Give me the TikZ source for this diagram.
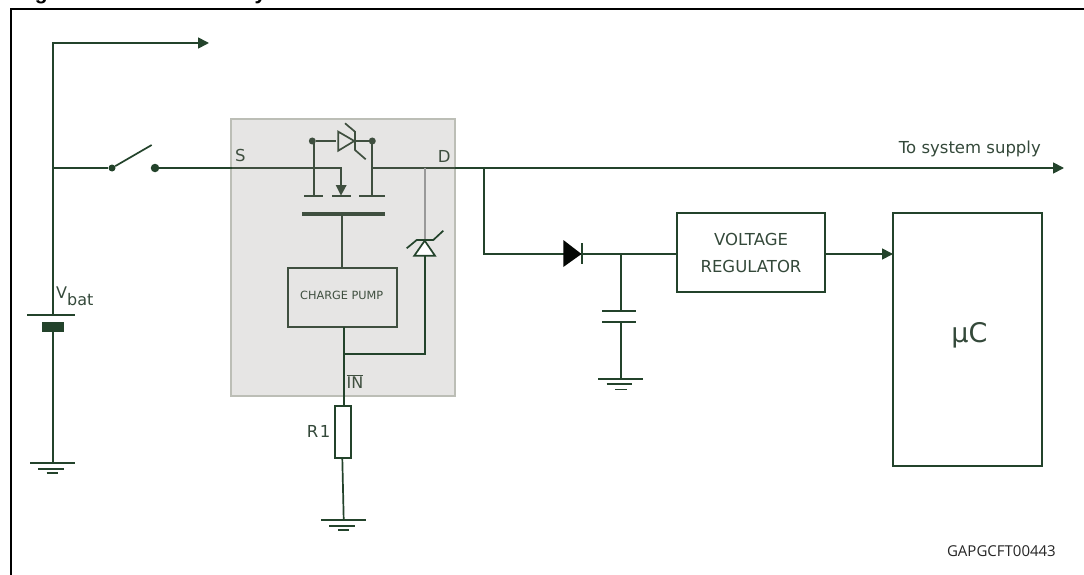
\documentclass[tikz,border=0pt]{standalone}
\usepackage{fontspec}
\setmainfont{DejaVu Sans}
\newfontfamily\arialb{Liberation Sans}
\newfontfamily\codefont{Open Sans}
\usetikzlibrary{arrows.meta}
\definecolor{wire}{HTML}{23432B}
\definecolor{inner}{HTML}{3F4F3F}
\definecolor{txt}{HTML}{34493A}
\definecolor{panel}{HTML}{E6E5E4}
\definecolor{panelb}{HTML}{BCBEB6}
\tikzset{x=1pt,y=-1pt,
 wirel/.style={draw=wire,line width=1.7pt},
 innerl/.style={draw=inner,line width=1.7pt},
 lab/.style={text=txt,inner sep=0pt,font=\fontsize{16.5}{20}\selectfont},
 dotn/.style={circle,fill=wire,inner sep=0pt,minimum size=7pt},
 pt/.style={inner sep=0pt,outer sep=0pt,minimum size=0pt},
 tip/.style={-{Triangle[length=11pt,width=11pt]}}
}
\begin{document}
\begin{tikzpicture}
\useasboundingbox (0,0) rectangle (1084,575);
\fill[white] (0,0) rectangle (1084,575);
% title cut off by the top edge
\begin{scope}
\clip (0,0) rectangle (1084,6);
\node[anchor=base west,inner sep=0pt,font=\arialb\bfseries\fontsize{21}{24}\selectfont,text=black] (title) at (16,-0.5) {Figure 3.\hspace{18pt}MCU-based system};
\end{scope}
% frame
\draw[black,line width=2pt] (10.5,575) -- (10.5,9) -- (1084,9);
% panel
\node[pt,draw=panelb,fill=panel,line width=2pt,minimum width=224pt,minimum height=277pt,anchor=north west] (ic) at (231,119) {};
% nodes
\node[dotn] (swa) at (112,168) {};
\node[dotn,minimum size=8.5pt] (swb) at (155,168) {};
\coordinate (top) at (53,43);
\coordinate (arrowend) at (209,43);
\coordinate (j1) at (53,168);
\coordinate (bat1) at (53,315);
\coordinate (bat2) at (53,326);
\coordinate (g1) at (53,463);
\coordinate (swt) at (151.7,145);
\coordinate (sysend) at (1064,168);
\coordinate (sleft) at (341,168);
\coordinate (sdown) at (341,186);
\coordinate (dright) at (372,168);
\draw[wirel,tip] (j1) -- (top) -- (arrowend);
\draw[wirel] (j1) -- (bat1);
\draw[wirel] (j1) -- (swa);
\draw[wirel] (swa) -- (swt);
\draw[wirel] (bat2) -- (g1);
\draw[wirel] (27.3,315) -- (75,315);
\fill[wire] (41.7,322) rectangle (64,332);
\draw[wirel] (30,463) -- (75,463);
\draw[wirel] (38.3,469) -- (64,469);
\draw[wirel] (46.7,473) -- (58.3,473);
\node[lab,font=\fontsize{16}{20}\selectfont,anchor=base west] (vbat) at (56,298) {V\raisebox{-7pt}{bat}};
% main line
\draw[wirel] (swb) -- (232,168);
\draw[innerl] (232,168) -- (sleft) -- (sdown);
\draw[innerl] (dright) -- (455,168);
\draw[wirel,tip] (455,168) -- (sysend);
\node[lab,anchor=base east] (sys) at (1041,153.3) {To system supply};
% mosfet
\node[lab,anchor=base west,text=inner] (S) at (235,161.7) {S};
\node[lab,anchor=base east,text=inner] (D) at (450.7,162.7) {D};
\node[dotn,fill=inner] (ga) at (312.3,141) {};
\node[dotn,fill=inner] (gb) at (372.3,141) {};
\draw[innerl] (ga) -- (335.7,141);
\draw[innerl] (338.3,131.7) -- (338.3,150.7) -- (354.3,141) -- cycle;
\draw[innerl] (354.3,141) -- (gb);
\draw[innerl] (345,123.3) -- (355,131.7) -- (355,150) -- (365.7,159.3);
\draw[innerl] (314,141) -- (314,196);
\draw[innerl] (372,141) -- (372,196);
\draw[innerl] (304,196) -- (323.3,196);
\draw[innerl] (332.3,196) -- (351,196);
\draw[innerl] (359,196) -- (385,196);
\fill[inner] (335.7,185) -- (346.7,185) -- (341,195.5) -- cycle;
\fill[inner] (302,212) rectangle (384.7,216);
\node[pt,draw=inner,line width=1.7pt,minimum width=109pt,minimum height=59pt,anchor=north west] (cp) at (288,268) {};
\node[lab,text=inner,font=\fontsize{11.3}{14}\selectfont] (cpl) at (341.7,295) {CHARGE PUMP};
\coordinate (gt) at (342,216);
\draw[innerl] (gt) -- (gt |- cp.north);
% gray wire and zener
\draw[draw=gray!75!panel,line width=1.4pt] (425,168) -- (425,240.7);
\draw[wirel,fill=white] (414.3,255.7) -- (424.7,240.7) -- (435,255.7) -- cycle;
\draw[wirel] (406.7,248.3) -- (416.7,240) -- (433.3,240) -- (443.3,230.7);
\draw[wirel] (425,256) -- (425,354) -- (343,354);
% IN
\node[pt,draw=wire,fill=white,line width=1.7pt,minimum width=16pt,minimum height=52pt,anchor=north west] (r1) at (335,406) {};
\coordinate (int) at (344,327);
\draw[wirel] (int) -- (int |- r1.north);
\node[lab,text=inner,font=\fontsize{16}{19}\selectfont,anchor=base west] (in) at (346.5,388.3) {$\overline{\mbox{IN}}$};
\node[lab,anchor=base west] (r1l) at (306.7,437.7) {R\hspace{1.5pt}1};
\coordinate (g2) at (343.7,519.5);
\draw[wirel] (342.3,458) -- (g2);
\draw[wirel] (321,520) -- (366,520);
\draw[wirel] (329.3,526) -- (355,526);
\draw[wirel] (338.3,530) -- (349.3,530);
% branch and diode
\coordinate (d1) at (484,168);
\coordinate (d2) at (484,254);
\node[pt,draw=wire,line width=1.7pt,minimum width=148pt,minimum height=79pt,anchor=north west,align=center,text=txt,font=\fontsize{16.5}{27}\selectfont] (vr) at (677,213) {VOLTAGE\\REGULATOR};
\coordinate (dj) at (621,254);
\draw[wirel] (d1) -- (d2) -- (vr.west |- d2);
\fill[black!90!wire] (563.3,240) -- (581.5,254) -- (563.3,267) -- cycle;
\draw[wirel] (582.3,243.3) -- (582.3,264);
% cap
\draw[wirel] (dj) -- (621,311);
\draw[wirel] (602.3,311) -- (636,311);
\draw[wirel] (602.3,322) -- (636,322);
\draw[wirel] (621,322) -- (621,379);
\draw[wirel] (598.3,379) -- (643.3,379);
\draw[wirel] (606.7,384) -- (631.7,384);
\draw[wirel] (615,389.5) -- (626.7,389.5);
% uC
\node[pt,draw=wire,line width=1.7pt,minimum width=149pt,minimum height=253pt,anchor=north west] (uc) at (893,213) {};
\node[lab,font=\fontsize{27}{30}\selectfont] (ucl) at (969.5,335) {µC};
\coordinate (vrout) at (825,254);
\draw[wirel,tip] (vr.east |- vrout) -- (uc.west |- vrout);
\node[inner sep=0pt,anchor=base east,text=black!85,font=\codefont\fontsize{15}{17}\selectfont] (code) at (1056,556.7) {GAPGCFT00443};
\end{tikzpicture}
\end{document}
